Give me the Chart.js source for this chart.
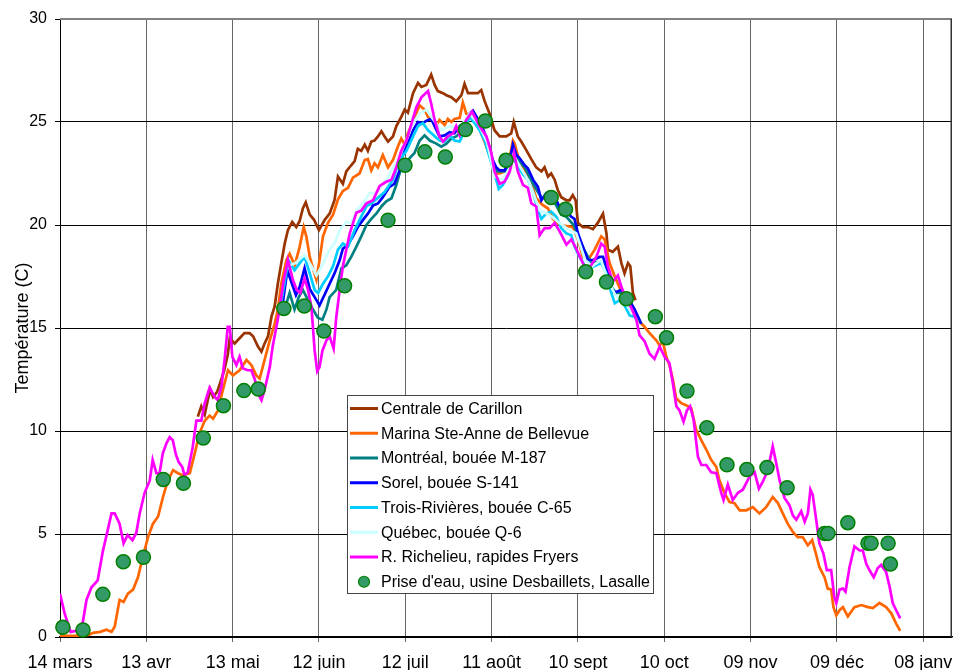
<!DOCTYPE html>
<html><head><meta charset="utf-8">
<script src="https://cdn.jsdelivr.net/npm/chart.js@4.4.1/dist/chart.umd.min.js"></script>
<style>html,body{margin:0;padding:0;background:#fff;}#wrap{width:953px;height:670px;}</style>
</head><body><div id="wrap"><canvas id="c" width="953" height="670"></canvas></div>
<script>
// Day 0 = 14 mars; ticks every 30 days
const tickDays = [0, 30, 60, 90, 120, 150, 180, 210, 240, 270, 300];
const tickLabels = ['14 mars', '13 avr', '13 mai', '12 juin', '12 juil', '11 août', '10 sept', '10 oct', '09 nov', '09 déc', '08 janv'];
const seriesNames = ['Centrale de Carillon', 'Marina Ste-Anne de Bellevue', 'Montréal, bouée M-187', 'Sorel, bouée S-141', 'Trois-Rivières, bouée C-65', 'Québec, bouée Q-6', 'R. Richelieu, rapides Fryers', "Prise d'eau, usine Desbaillets, Lasalle"];
const yTitle = 'Température (C)';

// [day, temperature]
const carillon = [[47.9,10.7],[49.1,11.2],[50.3,10.8],[51.5,11.6],[52.3,12.0],[53.2,11.65],[54.6,11.9],[55.8,12.4],[57.0,12.9],[58.3,13.7],[59.0,14.5],[60.7,14.25],[62.4,14.5],[64.1,14.75],[65.9,14.75],[67.1,14.6],[68.8,14.1],[70.0,13.85],[71.1,14.25],[72.3,14.6],[73.5,15.55],[74.6,16.05],[75.7,17.15],[76.9,18.15],[78.1,19.1],[79.2,19.75],[80.7,20.15],[82.1,19.9],[83.3,20.2],[84.4,20.8],[85.4,21.1],[86.8,20.5],[88.3,20.25],[90.0,19.75],[92.0,20.25],[93.7,20.55],[95.4,21.2],[96.6,22.35],[98.3,22.0],[99.5,22.6],[101.2,22.9],[102.4,23.1],[103.5,23.7],[104.7,23.6],[105.9,23.9],[107.0,23.6],[108.2,24.05],[109.3,24.1],[110.5,24.3],[111.7,24.55],[112.8,24.3],[114.0,24.05],[115.7,24.3],[116.9,24.8],[118.6,25.25],[119.8,25.6],[120.9,25.45],[122.7,26.4],[124.4,26.9],[125.6,26.7],[127.3,26.8],[129.0,27.3],[130.2,26.8],[131.3,26.5],[133.1,26.4],[134.3,26.3],[136.0,26.2],[137.7,26.0],[139.5,26.3],[140.6,26.85],[141.8,26.4],[143.5,26.4],[145.2,26.4],[146.4,26.55],[147.6,26.0],[149.3,25.4],[151.0,24.6],[152.8,24.3],[155.1,24.3],[156.8,24.45],[157.7,25.0],[159.1,24.3],[160.3,24.05],[162.0,23.65],[163.8,23.2],[165.5,22.8],[167.3,22.6],[168.4,22.8],[169.6,22.35],[170.7,22.5],[171.9,22.2],[173.0,21.7],[174.2,21.35],[176.0,21.2],[177.1,21.2],[178.2,21.45],[179.2,21.2],[180.0,20.1],[181.7,19.9],[183.5,19.9],[185.2,19.8],[186.9,20.1],[188.7,20.55],[189.9,19.6],[190.4,18.8],[192.1,18.7],[193.9,18.95],[195.1,18.15],[196.2,17.65],[197.4,18.15],[198.2,18.0],[199.1,16.7],[200.0,16.35]];

const marina = [[0,0.05],[5,0.05],[10,0.1],[11.5,0.2],[14,0.25],[16.1,0.35],[17.9,0.25],[19.0,0.5],[20.7,1.8],[22.1,1.7],[23.6,2.1],[25.4,2.3],[27.1,2.9],[28.8,3.9],[30.6,4.85],[32.3,5.5],[34.1,5.85],[35.8,6.8],[37.5,7.6],[39.3,8.1],[41.0,7.95],[42.7,7.85],[45.1,7.95],[46.8,8.9],[48.5,9.9],[50.3,10.5],[52.0,10.75],[53.2,10.6],[54.9,11.0],[56.6,12.0],[58.4,12.95],[60.1,12.7],[62.4,12.95],[64.8,13.45],[66.5,13.2],[68.2,12.7],[69.4,12.55],[71.1,13.45],[72.9,14.4],[74.6,15.2],[75.7,15.9],[76.9,17.15],[78.7,18.3],[79.8,18.6],[81.6,18.05],[83.3,18.95],[84.7,19.9],[85.6,19.45],[86.8,18.45],[88.2,17.75],[89.1,17.35],[90.2,18.3],[91.4,19.45],[93.1,20.1],[94.9,20.5],[96.6,21.25],[98.3,21.65],[100.1,21.8],[101.8,22.3],[104.1,22.5],[105.9,23.15],[107.0,23.2],[108.2,22.65],[109.3,23.0],[110.5,22.8],[112.2,23.4],[114.0,22.8],[115.7,23.15],[117.4,23.8],[118.6,24.2],[119.8,23.9],[120.9,24.45],[122.1,24.8],[123.2,25.25],[125.0,25.8],[126.7,25.6],[127.9,25.25],[129.6,25.15],[130.8,24.85],[131.9,25.1],[133.7,24.85],[134.8,25.15],[136.0,25.0],[137.1,25.15],[138.9,25.2],[140.0,25.95],[141.2,25.4],[142.9,25.3],[144.7,25.1],[146.4,24.45],[148.2,23.8],[149.9,23.15],[151.0,22.5],[152.8,22.5],[154.5,22.6],[156.3,23.3],[157.4,24.1],[158.0,23.95],[159.7,23.05],[161.4,22.7],[163.2,22.3],[165.5,21.3],[167.5,21.0],[169.6,20.8],[171.3,20.3],[173.6,20.0],[176.0,19.95],[178.2,19.9],[180.0,19.3],[181.7,18.45],[183.5,18.3],[185.8,18.8],[188.1,19.45],[189.3,19.3],[191.0,18.15],[192.8,17.5],[194.5,16.95],[196.8,16.5],[199.1,15.9],[200.8,15.4],[203.2,15.05],[204.9,14.75],[207.2,14.4],[208.4,14.15],[209.5,14.35],[210.7,13.6],[211.8,13.2],[213.0,12.5],[214.1,11.6],[215.9,11.35],[217.6,11.25],[219.4,11.1],[221.1,10.05],[222.9,9.55],[224.6,9.1],[226.3,8.6],[228.1,8.25],[229.2,7.6],[230.9,7.0],[232.7,6.55],[234.4,6.5],[236.2,6.15],[238.5,6.15],[240.8,6.3],[243.1,6.0],[245.4,6.3],[247.7,6.8],[249.5,6.5],[251.2,6.0],[252.9,5.5],[254.7,5.1],[256.4,4.85],[258.1,4.85],[259.9,4.45],[261.4,4.7],[262.8,4.0],[263.9,3.4],[265.7,2.9],[266.8,2.35],[268.0,2.3],[268.8,1.45],[269.8,1.05],[270.9,1.3],[272.1,1.45],[273.8,1.0],[276.1,1.45],[278.5,1.55],[280.8,1.45],[282.5,1.4],[284.8,1.65],[287.1,1.45],[288.9,1.15],[290.6,0.65],[292.0,0.3]];

const montreal = [[77.5,15.8],[78.7,16.2],[79.8,16.7],[81.5,15.9],[83.0,16.5],[84.4,16.85],[86.2,16.35],[87.9,15.9],[89.6,15.5],[91.2,15.4],[92.6,15.9],[93.7,16.5],[96.0,16.85],[97.8,17.9],[99.5,18.05],[101.2,18.45],[103.0,18.95],[104.7,19.45],[106.5,20.0],[108.2,20.3],[109.9,20.55],[111.7,20.9],[113.4,21.15],[115.2,21.3],[116.9,21.95],[118.6,22.8],[120.9,23.15],[123.2,23.5],[125.0,24.1],[126.7,24.35],[128.5,24.1],[130.8,23.95],[132.5,23.8],[134.3,23.95],[136.0,24.2],[137.7,24.3],[140.0,24.6],[142.3,25.4],[144.5,25.2],[146.5,24.6],[148.5,23.9],[150.4,23.0],[152.0,22.6],[154.5,22.6],[156.3,23.0],[157.5,23.7],[159.5,23.1],[161.5,22.8],[164.4,22.0],[166.1,21.6],[167.5,21.3],[169.5,21.4],[171.5,21.2],[174.2,20.5],[176.0,20.4],[178.5,20.0],[180.5,19.3],[182.5,18.7],[184.5,18.2],[186.5,18.2],[188.5,18.2],[190.0,17.8],[191.6,17.0],[193.3,16.7],[195.1,16.7],[197.0,16.4]];

const sorel = [[77.5,16.3],[79.0,17.8],[80.5,17.2],[82.0,16.6],[83.3,17.0],[85.0,17.9],[86.8,16.9],[88.5,16.5],[90.2,16.1],[91.9,16.6],[93.7,17.15],[95.4,17.65],[97.2,18.3],[98.3,18.85],[100.1,19.05],[101.8,19.45],[103.5,19.9],[105.3,20.25],[107.0,20.55],[108.8,20.95],[110.5,21.05],[112.2,21.35],[114.5,21.85],[116.2,22.0],[117.9,22.6],[119.2,23.5],[120.9,23.95],[122.7,24.6],[124.4,25.0],[126.1,24.95],[127.9,25.1],[129.0,25.15],[130.2,24.8],[131.9,24.3],[133.7,24.35],[135.4,24.5],[137.1,24.45],[138.9,24.8],[140.6,24.95],[142.3,25.4],[143.5,25.55],[145.2,25.15],[146.9,24.7],[148.7,24.05],[150.4,23.15],[151.6,22.8],[152.8,22.65],[154.5,22.65],[156.3,23.15],[157.4,23.9],[158.6,23.4],[159.7,23.25],[161.5,22.9],[162.6,22.75],[164.4,22.2],[166.1,21.85],[167.3,21.2],[169.0,21.55],[170.7,21.55],[172.5,21.2],[174.2,20.7],[175.9,20.65],[177.7,20.4],[178.8,20.3],[180.0,19.6],[181.7,18.95],[183.5,18.3],[185.4,18.3],[187.5,18.45],[188.7,18.45],[189.9,18.0],[191.6,16.75],[193.3,16.75],[195.1,16.85],[197.9,16.35],[199.7,15.9],[201.4,15.4],[202.0,15.2]];

const troisRivieres = [[76.8,16.2],[78.0,17.15],[79.4,18.3],[81.5,17.8],[83.3,18.15],[85.0,18.45],[86.8,17.65],[88.5,16.85],[89.7,16.7],[91.4,17.15],[93.1,17.5],[94.9,18.0],[96.6,18.8],[98.3,19.1],[100.1,18.95],[102.4,19.75],[104.1,20.25],[106.5,20.9],[108.2,21.05],[112.8,21.6],[115.7,22.2],[118.0,23.15],[120.4,23.6],[122.7,24.3],[124.4,24.8],[126.1,24.95],[127.9,24.6],[131.9,24.1],[133.7,24.05],[135.4,24.35],[137.1,24.1],[138.9,24.05],[140.6,24.55],[142.3,25.25],[144.1,24.95],[145.8,24.6],[147.6,24.1],[149.3,23.3],[151.0,22.5],[152.5,21.75],[153.9,21.95],[155.7,22.4],[157.4,23.3],[159.1,22.85],[160.9,22.45],[162.6,22.2],[164.4,21.6],[166.1,20.7],[167.3,20.3],[169.0,20.55],[170.7,20.65],[172.5,20.4],[174.2,19.85],[175.9,19.6],[177.7,19.5],[178.8,18.95],[180.6,18.45],[182.3,18.05],[184.1,17.9],[186.4,18.05],[188.1,18.15],[189.9,17.65],[191.6,16.7],[192.8,16.2],[194.5,16.35],[196.2,16.1],[198.0,15.6],[199.7,15.55],[200.8,15.3]];

const quebec = [[79.8,18.05],[81.8,18.15],[85.0,18.55],[87.4,18.0],[89.1,17.55],[90.2,17.8],[92.0,18.3],[93.7,18.8],[95.4,19.1],[97.2,19.75],[99.5,20.15],[101.2,20.1],[103.0,20.7],[105.3,21.05],[107.6,21.55],[109.9,21.55],[113.4,22.2],[118.0,23.3],[122.7,24.95],[125.0,25.4],[127.3,25.6],[129.6,25.15],[132.5,24.6],[135.4,24.8],[138.9,24.7],[142.3,25.4],[145.5,24.9],[148.5,24.0],[151.0,22.35],[153.9,22.2],[156.5,22.8],[157.6,23.4],[160.0,22.8],[163.0,22.1],[166.7,20.7],[170.0,20.5],[173.6,20.1],[176.5,19.8],[179.4,19.6],[182.5,18.3],[185.0,18.0],[188.0,18.3],[190.5,17.3],[193.0,16.6],[196.0,16.3],[198.5,15.8]];

const richelieu = [[0,2.1],[1.6,1.15],[3.7,0.25],[5.7,0.3],[7.9,0.7],[9.2,1.8],[10.9,2.4],[13.1,2.75],[14.8,4.1],[16.6,5.2],[17.9,6.0],[19.0,6.0],[20.7,5.5],[22.1,4.55],[23.5,4.95],[25.2,4.7],[26.5,5.05],[27.7,6.0],[29.4,7.0],[31.2,7.6],[32.2,8.6],[33.5,7.95],[34.6,7.95],[35.7,8.9],[37.0,9.4],[38.1,9.7],[39.2,9.55],[40.2,8.9],[41.2,8.5],[42.5,8.25],[43.3,7.85],[44.4,8.0],[46.1,9.2],[47.4,10.5],[49.1,10.5],[50.3,11.35],[52.0,12.1],[53.8,11.65],[54.8,11.5],[56.1,12.15],[57.2,13.45],[58.3,15.05],[59.0,15.05],[59.9,13.6],[61.3,13.2],[62.4,13.6],[63.5,13.05],[65.2,12.95],[66.5,12.95],[67.7,12.5],[68.7,11.85],[70.0,11.5],[71.1,12.0],[72.9,13.1],[73.9,14.1],[75.2,15.05],[76.3,15.9],[77.6,17.2],[79.2,18.3],[81.0,17.3],[82.3,16.85],[83.5,16.7],[85.0,17.4],[86.2,16.85],[87.4,16.0],[88.5,13.9],[89.4,12.9],[90.2,13.1],[91.2,13.9],[92.6,14.4],[93.7,14.6],[95.1,14.0],[96.0,15.5],[97.2,16.85],[98.3,18.0],[100.7,19.6],[103.0,20.6],[104.7,20.7],[106.5,21.05],[108.8,21.2],[111.1,21.9],[113.4,22.1],[115.2,22.2],[116.9,22.8],[118.6,23.6],[120.4,24.1],[122.1,24.9],[123.8,25.7],[125.6,26.2],[127.9,26.5],[129.0,25.9],[130.2,25.1],[131.9,24.3],[133.1,24.05],[134.8,24.3],[136.6,24.45],[137.7,24.8],[138.9,24.35],[141.2,25.1],[143.2,25.5],[145.8,24.8],[148.2,24.3],[149.9,23.5],[151.0,22.6],[152.8,22.0],[154.5,22.1],[156.3,22.6],[157.8,23.5],[159.1,22.6],[160.9,21.95],[162.6,21.8],[163.8,21.05],[165.5,20.9],[166.7,19.5],[168.4,19.85],[170.2,19.85],[171.9,20.1],[173.6,19.7],[176.0,19.05],[177.7,19.3],[179.4,18.85],[181.2,18.3],[182.9,17.8],[184.6,18.05],[186.4,18.45],[188.1,19.1],[189.3,18.95],[190.4,18.0],[192.1,17.25],[193.9,17.55],[195.1,17.0],[196.8,16.35],[198.5,16.0],[200.3,15.4],[201.4,14.65],[203.2,14.35],[204.9,13.75],[206.6,13.5],[208.4,14.1],[210.1,13.6],[211.8,13.3],[213.0,12.3],[214.2,11.2],[215.3,11.0],[216.7,10.45],[217.9,11.0],[219.0,11.2],[220.2,10.55],[221.7,8.75],[222.9,8.35],[224.6,8.35],[226.3,8.0],[228.1,7.95],[229.8,7.0],[230.6,6.65],[232.1,7.4],[233.8,6.65],[235.6,7.0],[237.3,7.15],[239.7,7.8],[241.4,8.0],[242.9,7.2],[244.3,7.55],[246.0,8.1],[247.7,9.25],[248.9,8.45],[250.1,7.6],[251.8,6.75],[253.5,6.4],[254.7,5.9],[255.9,5.7],[257.6,6.1],[258.8,5.6],[259.9,6.0],[260.8,7.15],[261.6,6.9],[262.8,5.7],[263.9,4.55],[265.3,4.05],[266.5,3.25],[268.0,3.25],[269.1,1.95],[269.8,1.65],[270.9,2.3],[272.1,2.35],[273.0,2.2],[274.4,3.4],[276.1,4.4],[277.9,4.2],[279.0,4.2],[280.2,3.55],[281.3,3.25],[282.8,2.9],[284.2,3.35],[285.4,3.5],[287.1,3.15],[288.3,2.45],[289.4,1.65],[290.6,1.3],[292.0,0.9]];

const priseEau = [[1.0,0.47],[8.0,0.34],[14.9,2.07],[22.0,3.65],[29.0,3.87],[35.9,7.65],[42.9,7.46],[49.8,9.66],[56.8,11.23],[63.9,11.96],[68.9,12.04],[77.8,15.95],[84.9,16.07],[91.7,14.85],[98.9,17.05],[114.0,20.23],[119.9,22.9],[126.8,23.55],[133.9,23.3],[140.9,24.63],[147.8,25.05],[155.0,23.14],[170.7,21.34],[175.7,20.76],[182.7,17.73],[189.9,17.23],[196.8,16.42],[206.9,15.55],[210.8,14.53],[217.9,11.94],[224.8,10.16],[231.8,8.36],[238.7,8.13],[245.7,8.23],[252.7,7.25],[265.7,5.03],[266.9,5.03],[273.8,5.55],[280.8,4.55],[281.9,4.55],[287.8,4.55],[288.6,3.54]];

const FONT = 'Arial, "Liberation Sans", sans-serif';
const colors = ['#993300', '#FF6600', '#008080', '#0000FF', '#00CCFF', '#CCFFFF', '#FF00FF', '#339966'];
const lineData = [carillon, marina, montreal, sorel, troisRivieres, quebec, richelieu];
const toPts = arr => arr.map(p => ({x: p[0], y: p[1]}));

const datasets = lineData.map((d, i) => ({
  label: seriesNames[i], data: toPts(d), borderColor: colors[i], backgroundColor: colors[i],
  borderWidth: 2.7, pointRadius: 0, tension: 0, fill: false, order: 8 - i
}));
datasets.push({
  label: seriesNames[7], data: toPts(priseEau), showLine: false, pointRadius: 7, pointHoverRadius: 7,
  pointBackgroundColor: '#339966', pointBorderColor: '#008000', pointBorderWidth: 1.5, order: 0, clip: false
});

const framePlugin = {
  id: 'frame',
  beforeDatasetsDraw(chart) {
    const {ctx, chartArea: a} = chart;
    ctx.save();
    ctx.strokeStyle = '#808080'; ctx.lineWidth = 2;
    ctx.beginPath(); ctx.moveTo(a.left, a.top); ctx.lineTo(a.right, a.top); ctx.stroke();
    ctx.strokeStyle = '#333'; ctx.lineWidth = 1.5;
    ctx.beginPath(); ctx.moveTo(a.right - 0.75, a.top); ctx.lineTo(a.right - 0.75, a.bottom); ctx.stroke();
    ctx.restore();
  }
};

const legendPlugin = {
  id: 'boxLegend',
  afterDraw(chart) {
    const ctx = chart.ctx;
    const bx = 347.5, by = 395.5, bw = 306, bh = 198, step = 24.75, y0 = 408.5;
    ctx.save();
    ctx.fillStyle = '#fff'; ctx.fillRect(bx, by, bw, bh);
    ctx.strokeStyle = '#444'; ctx.lineWidth = 1; ctx.strokeRect(bx, by, bw, bh);
    ctx.font = '16px ' + FONT; ctx.textBaseline = 'middle'; ctx.fillStyle = '#000';
    chart.data.datasets.forEach((ds, i) => {
      const y = y0 + i * step;
      if (ds.showLine === false) {
        ctx.beginPath(); ctx.arc(364, y, 5.5, 0, Math.PI * 2);
        ctx.fillStyle = ds.pointBackgroundColor; ctx.fill();
        ctx.strokeStyle = ds.pointBorderColor; ctx.lineWidth = 1.2; ctx.stroke();
      } else {
        ctx.strokeStyle = ds.borderColor; ctx.lineWidth = 3;
        ctx.beginPath(); ctx.moveTo(350, y); ctx.lineTo(378, y); ctx.stroke();
      }
      ctx.fillStyle = '#000';
      ctx.fillText(ds.label, 381, y + 1);
    });
    ctx.restore();
  }
};

new Chart(document.getElementById('c'), {
  type: 'line',
  data: {datasets},
  plugins: [framePlugin, legendPlugin],
  options: {
    responsive: false, animation: false, devicePixelRatio: 1,
    layout: {autoPadding: false, padding: {top: 19, right: 1, left: 0, bottom: 0}},
    plugins: {legend: {display: false}, tooltip: {enabled: false}},
    scales: {
      x: {
        type: 'linear', min: 0, max: 310,
        afterBuildTicks: s => { s.ticks = tickDays.map(v => ({value: v})); },
        ticks: {callback: v => tickLabels[Math.round(v / 30)], maxRotation: 0, autoSkip: false,
                font: {family: FONT, size: 18}, color: '#000', padding: 10},
        grid: {color: '#666', tickLength: 5},
        border: {color: '#000', width: 1.5},
        afterFit: s => { s.height = 33; s.paddingLeft = 0; s.paddingRight = 0; }
      },
      y: {
        min: 0, max: 30,
        ticks: {stepSize: 5, font: {family: FONT, size: 16}, color: '#000', padding: 8},
        grid: {color: '#000', tickLength: 5},
        border: {color: '#000'},
        title: {display: true, text: yTitle, font: {family: FONT, size: 18}, color: '#000', padding: {top: 12, bottom: 0}},
        afterFit: s => { s.width = 60; }
      }
    }
  }
});
</script>
</body></html>
